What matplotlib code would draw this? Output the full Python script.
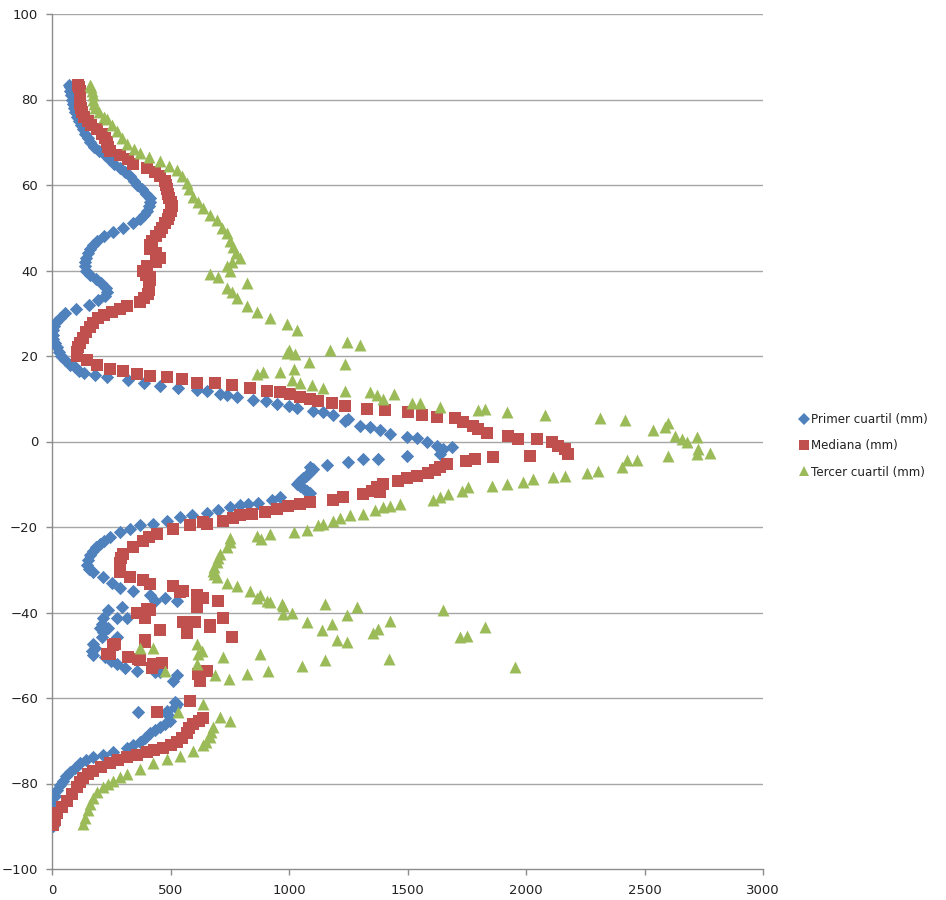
import matplotlib
matplotlib.use("Agg")
import matplotlib.pyplot as plt
from matplotlib.lines import Line2D

# Latitude (degrees) and precipitation (mm) for each statistic
lat_q1 = [83.5, 83, 82, 81, 80, 79, 78, 77, 76, 75, 74, 73, 72, 71, 70, 69, 68, 67, 66, 65,
          64, 63, 62, 61, 60, 59, 58, 57, 56, 55, 54, 53, 52, 51, 50, 49, 48, 47, 46, 45,
          44, 43, 42, 41, 40, 39, 38, 37, 36, 35, 34, 33, 32, 31, 30, 29, 28, 27, 26, 25,
          24, 23, 22, 21, 20, 19, 18, 17.4, 16.5, 16, 15.5, 15, 14.4, 13.6, 13, 12.4, 12, 11.9, 11.2, 10.8,
          10.3, 9.6, 9.4, 8.7, 8.2, 7.9, 7.2, 6.9, 6.1, 5.3, 4.9, 3.7, 3.4, 2.7, 1.8, 1, 0.9, -0.2, -1, -1.7,
          -1.4, -2.9, -3.3, -4.1, -4.1, -4.9, -5.4, -6, -6.5, -7, -7.5, -8, -8.5, -9, -9.5, -10, -10.5, -11, -11.5, -12,
          -13, -13.8, -14.3, -14.6, -14.8, -15.4, -16.1, -16.8, -17.1, -17.7, -18.5, -19.3, -19.6, -20.4, -21.2, -22.4, -23.2, -23.9, -24.7, -25.5,
          -26.5, -27.8, -29, -29.8, -30.6, -31.8, -33, -34.2, -34.9, -36, -36.7, -37.2, -37.2, -38.8, -39.5, -41.4, -41.4, -41.2, -42.6, -43.7,
          -43.7, -44.5, -45.8, -45.8, -47.3, -48.2, -49, -50, -50.5, -51.3, -52, -52.9, -53.6, -54, -54, -54.7, -56, -61, -61.5, -62.2,
          -63.3, -63, -64, -65.3, -66, -66.9, -67.6, -68.3, -69.3, -70.4, -71.1, -71.8, -72.7, -73.3, -73.9, -74.6, -75.3, -76.3, -77.4, -78.3,
          -79.3, -80.4, -81.6, -83, -84.7, -86, -87, -88, -89, -90]
val_q1 = [72, 76, 78, 82, 85, 88, 92, 98, 105, 115, 122, 130, 140, 150, 160, 178, 200, 222, 240, 262,
          285, 308, 330, 345, 358, 380, 398, 413, 412, 408, 400, 390, 371, 340, 300, 258, 220, 190, 172, 160,
          150, 145, 140, 138, 142, 160, 185, 208, 228, 232, 222, 195, 155, 100, 55, 32, 18, 10, 6, 4,
          6, 12, 20, 28, 38, 55, 75, 95, 115, 135, 180, 232, 320, 390, 456, 530, 610, 654, 710, 740,
          780, 850, 905, 950, 998, 1035, 1103, 1145, 1187, 1250, 1237, 1300, 1342, 1385, 1427, 1497, 1538, 1581, 1624, 1651,
          1686, 1637, 1497, 1377, 1314, 1250, 1160, 1089, 1100, 1092, 1080, 1072, 1060, 1050, 1042, 1035, 1048, 1062, 1078, 1089,
          962, 928, 869, 827, 793, 751, 700, 654, 590, 540, 485, 426, 371, 329, 287, 245, 220, 203, 185, 173,
          160, 152, 148, 158, 173, 215, 253, 287, 343, 413, 477, 527, 435, 294, 237, 215, 274, 316, 211, 203,
          237, 215, 211, 274, 173, 181, 170, 173, 224, 250, 274, 308, 358, 435, 456, 527, 511, 519, 527, 520,
          363, 485, 490, 498, 478, 456, 435, 413, 392, 371, 340, 316, 258, 215, 173, 145, 118, 95, 76, 60,
          46, 33, 21, 12, 5, 3, 2, 2, 3, 5]

lat_med = [83.5, 83, 82, 81, 80, 79, 78, 77, 76, 75, 74, 73, 72, 71, 70, 69, 68, 67, 66, 65,
           64, 63, 62, 61, 60, 59, 58, 57, 56, 55, 54, 53, 52, 51, 50, 49, 48, 47, 46, 45,
           44, 43, 42, 41, 40, 39, 38.5, 37.7, 36.5, 35.5, 34.6, 33.6, 32.6, 31.8, 31, 30.2, 29.5, 28.8, 27.8, 26.7,
           25.5, 24.3, 23, 22, 21, 20.1, 19, 17.8, 17, 16.6, 15.9, 15.4, 15, 14.7, 13.8, 13.6, 13.1, 12.4, 11.9, 11.5,
           11.2, 10.5, 10, 9.4, 8.9, 8.4, 7.7, 7.3, 6.8, 6.3, 5.8, 5.4, 4.5, 3.7, 3, 1.9, 1.4, 0.7, 0.5, -0.2,
           -1, -1.7, -2.9, -3.3, -3.7, -4.1, -4.6, -5.2, -6, -6.7, -7.4, -8, -8.5, -9.2, -9.9, -10.7, -11.5, -11.9, -12.2, -13,
           -13.8, -14.2, -14.6, -15, -15.7, -16.6, -16.9, -17.3, -18, -18.5, -18.9, -19.2, -19.6, -20.4, -21.6, -22.4, -23.2, -24.7, -26.2, -27.3,
           -28.5, -29.5, -30.6, -31.8, -32.5, -33.3, -33.7, -34.9, -35.3, -36, -36.7, -37.2, -37.9, -38.8, -39.1, -39.5, -40, -41.2, -41.4, -42.3,
           -42.3, -43, -43.5, -44.2, -44.9, -45.8, -46.5, -47, -47.3, -47.7, -49.6, -49.6, -50.5, -50.8, -51.2, -51.7, -52, -52.9, -53.6, -54.3,
           -56, -60.6, -63.3, -64.6, -65.3, -66, -67, -68.3, -69.3, -70.4, -71, -71.6, -72.2, -72.7, -73.3, -73.9, -74.6, -75.3, -76.2, -77,
           -77.8, -78.6, -79.7, -80.9, -82.4, -84, -85.5, -87, -88.5, -89.8]
val_med = [110, 115, 118, 118, 118, 120, 122, 125, 135, 150, 165, 190, 211, 222, 232, 238, 245, 287, 320, 342,
           400, 435, 455, 477, 483, 487, 489, 495, 500, 506, 500, 495, 489, 475, 465, 456, 440, 424, 415, 413,
           440, 456, 440, 400, 384, 395, 413, 413, 410, 408, 405, 390, 371, 316, 285, 253, 220, 194, 175, 160,
           145, 131, 120, 110, 105, 105, 148, 190, 245, 300, 358, 413, 485, 548, 612, 688, 759, 835, 907, 962,
           1004, 1046, 1089, 1122, 1181, 1236, 1329, 1405, 1502, 1561, 1624, 1700, 1734, 1776, 1797, 1835, 1924, 1966, 2046, 2110,
           2135, 2165, 2177, 2017, 1861, 1785, 1747, 1667, 1637, 1616, 1587, 1540, 1498, 1460, 1397, 1371, 1350, 1384, 1312, 1228,
           1186, 1089, 1046, 996, 949, 899, 843, 793, 765, 722, 637, 654, 582, 511, 443, 410, 384, 342, 300, 290,
           287, 285, 287, 329, 384, 413, 511, 553, 540, 612, 637, 700, 612, 612, 400, 413, 358, 392, 722, 553,
           603, 667, 667, 456, 570, 759, 392, 392, 266, 258, 232, 245, 321, 363, 371, 464, 426, 422, 654, 616,
           624, 582, 443, 637, 620, 595, 580, 570, 548, 527, 500, 468, 430, 400, 360, 316, 280, 245, 205, 173,
           150, 131, 118, 105, 85, 63, 42, 21, 12, 5]

lat_q3 = [83.5, 83, 82, 81, 80, 79, 78, 77, 76, 75.5, 74, 72.7, 71, 69.7, 68.5, 67.6, 66.5, 65.7, 64.5, 63.4,
          62, 60.4, 59, 57.1, 56, 54.7, 53, 51.7, 50, 48.7, 47, 45.4, 44, 43, 42, 41, 40, 39.2, 38.5, 37,
          36, 35, 33.5, 31.8, 30.2, 28.8, 27.6, 26, 23.3, 22.5, 21.3, 21.3, 20.8, 20.5, 18.5, 18.2, 17, 16.2, 16.2, 15.9,
          14.3, 13.6, 13.1, 12.4, 11.9, 11.5, 11.2, 10.8, 10, 9.1, 8.9, 8, 7.7, 7.3, 6.8, 6.1, 5.6, 5.1, 4.4, 3.5,
          2.6, 1.4, 1, 0.7, -0.2, -1.7, -2.6, -2.9, -3.3, -4.4, -4.4, -6, -6.8, -7.4, -8, -8.4, -8.7, -9.4, -9.9, -10.3,
          -10.7, -11.5, -12.2, -12.9, -13.8, -14.6, -15, -15.4, -16.1, -16.9, -17.3, -17.8, -18.5, -19.2, -19.6, -20.8, -21.2, -21.6, -22, -22.5,
          -22.8, -23.6, -24.7, -26.2, -27.3, -28.3, -29.3, -30.2, -31, -31.8, -33, -33.7, -34.9, -36, -36.5, -37.2, -37.6, -38, -38.4, -38,
          -38.8, -39.3, -40, -40.3, -40.7, -41.9, -42.3, -42.6, -43.4, -43.8, -44.2, -44.7, -45.4, -45.8, -46.5, -47, -47.3, -48.2, -48.4, -48.9,
          -49.6, -49.6, -50.5, -50.8, -51.2, -52, -52.4, -52.8, -53.6, -53.6, -54.3, -54.7, -55.5, -61.3, -63.3, -64.5, -65.3, -66.9, -68, -69.2,
          -70.2, -71.1, -72.3, -73.5, -74.2, -75.3, -76.5, -77.7, -78.5, -79.3, -80.1, -80.9, -82, -83.3, -84.8, -86.3, -88, -89.4]
val_q3 = [160, 165, 170, 173, 175, 178, 181, 200, 220, 232, 255, 274, 295, 316, 345, 371, 410, 456, 495, 527,
          550, 570, 580, 595, 615, 637, 665, 696, 718, 738, 752, 764, 775, 793, 760, 740, 751, 667, 700, 823,
          738, 760, 781, 823, 865, 920, 992, 1034, 1243, 1300, 998, 1173, 992, 1026, 1083, 1237, 1019, 892, 962, 865,
          1011, 1046, 1096, 1145, 1237, 1342, 1441, 1370, 1398, 1518, 1553, 1637, 1829, 1797, 1918, 2081, 2313, 2418, 2599, 2586,
          2536, 2629, 2721, 2658, 2679, 2726, 2776, 2721, 2599, 2468, 2426, 2405, 2304, 2257, 2165, 2114, 2030, 1987, 1920, 1856,
          1755, 1730, 1671, 1637, 1608, 1468, 1426, 1397, 1363, 1313, 1257, 1215, 1186, 1145, 1122, 1075, 1019, 920, 865, 751,
          880, 751, 738, 709, 700, 696, 685, 679, 685, 696, 738, 781, 835, 878, 865, 907, 920, 970, 975, 1152,
          1287, 1651, 1011, 975, 1244, 1426, 1075, 1181, 1828, 1377, 1139, 1356, 1750, 1722, 1202, 1244, 612, 371, 426, 633,
          616, 878, 722, 1420, 1152, 612, 1054, 1955, 477, 912, 823, 688, 745, 637, 532, 709, 751, 679, 672, 667,
          650, 637, 595, 540, 485, 426, 371, 316, 285, 258, 235, 215, 190, 173, 162, 152, 140, 131]

series_labels = ["Primer cuartil (mm)", "Mediana (mm)", "Tercer cuartil (mm)"]
series_colors = ["#4F81BD", "#C0504D", "#9BBB59"]
x_ticks = [0, 500, 1000, 1500, 2000, 2500, 3000]
y_ticks = [-100, -80, -60, -40, -20, 0, 20, 40, 60, 80, 100]

plt.rcParams["font.family"] = ["DejaVu Sans"]

fig = plt.figure(figsize=(9.46, 9.0), dpi=100)
ax = fig.add_axes([52 / 946, 31 / 900, 711 / 946, 855 / 900])

ax.scatter(val_q1, lat_q1, marker="D", s=46, color=series_colors[0], linewidths=0, zorder=3)
ax.scatter(val_med, lat_med, marker="s", s=64, color=series_colors[1], linewidths=0, zorder=4)
ax.scatter(val_q3, lat_q3, marker="^", s=74, color=series_colors[2], linewidths=0, zorder=5)

ax.set_xlim(0, 3000)
ax.set_ylim(-100, 100)
ax.set_xticks(x_ticks)
ax.set_yticks(y_ticks)

grid_color = "#A6A6A6"
for y in y_ticks[1:]:
    ax.axhline(y, color=grid_color, linewidth=1.0, zorder=1)

for side in ("top", "right"):
    ax.spines[side].set_visible(False)
for side in ("left", "bottom"):
    ax.spines[side].set_color("#8C8C8C")
    ax.spines[side].set_linewidth(1.0)

ax.tick_params(axis="both", direction="out", length=4, width=1.0, color="#8C8C8C",
               labelsize=9.5, labelcolor="#222222")
ax.tick_params(axis="y", pad=6)
ax.tick_params(axis="x", pad=7)

handles = [
    Line2D([], [], linestyle="none", marker="D", markersize=6, color=series_colors[0], markeredgewidth=0),
    Line2D([], [], linestyle="none", marker="s", markersize=7.5, color=series_colors[1], markeredgewidth=0),
    Line2D([], [], linestyle="none", marker="^", markersize=7.5, color=series_colors[2], markeredgewidth=0),
]
fig.legend(handles, series_labels, loc="center left", bbox_to_anchor=(800 / 946, 1 - 446 / 900),
           frameon=False, fontsize=8.6, handlelength=0.7, handletextpad=0.25, labelspacing=1.1,
           borderpad=0, borderaxespad=0, labelcolor="#222222")

fig.savefig("out.png", dpi=100)
